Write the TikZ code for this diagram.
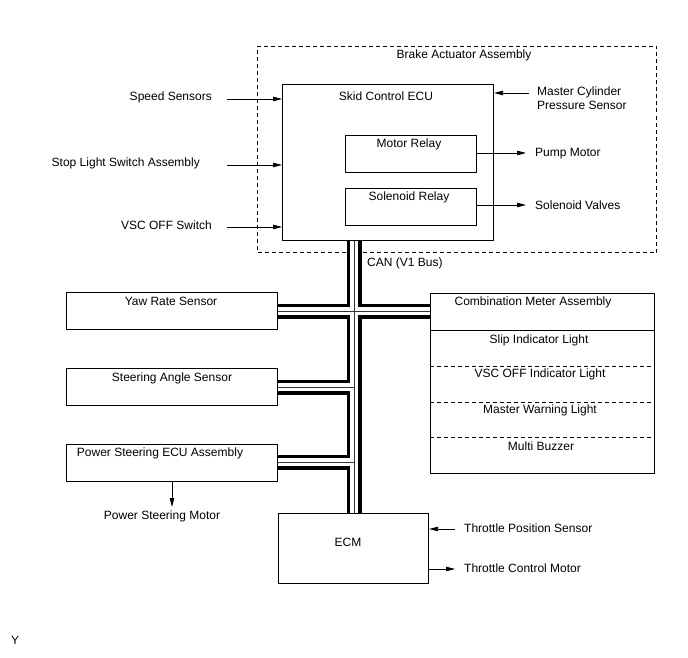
\documentclass[tikz,border=0pt]{standalone}
\usepackage{fontspec}
\setmainfont{Liberation Sans}
\usetikzlibrary{arrows.meta}
\begin{document}
\begin{tikzpicture}[x=1pt,y=-1pt,
  font=\fontsize{12}{14}\selectfont,
  box/.style={draw, line width=1.1pt, inner sep=0pt, anchor=north west},
  dbox/.style={draw, line width=1pt, dash pattern=on 4pt off 3pt, inner sep=0pt, anchor=north west},
  lbl/.style={inner sep=0pt, anchor=base},
  lblw/.style={inner sep=0pt, anchor=base west},
  lble/.style={inner sep=0pt, anchor=base east},
  arr/.style={line width=0.8pt, -{Triangle[length=9pt,width=4.5pt]}},
  busblack/.style={line width=15pt, black},
  buswhite/.style={line width=7.5pt, white},
  busthin/.style={line width=0.9pt, black!80}
]
\useasboundingbox (0,0) rectangle (688,658);

% boxes
\node[dbox, minimum width=399pt, minimum height=206pt] (brake) at (257,46) {};
\node[box, minimum width=211pt, minimum height=156pt] (skid) at (282,84) {};
\node[box, minimum width=131pt, minimum height=37pt] (motor) at (345,135) {};
\node[box, minimum width=131pt, minimum height=37pt] (sol) at (345,188) {};
\node[box, minimum width=211pt, minimum height=37pt] (yaw) at (66,292) {};
\node[box, minimum width=211pt, minimum height=37pt] (steer) at (66,368) {};
\node[box, minimum width=211pt, minimum height=37pt] (psecu) at (66,444) {};
\node[box, minimum width=224pt, minimum height=180pt] (comb) at (430,293) {};
\node[box, minimum width=150pt, minimum height=70pt] (ecm) at (278,513) {};

% combination meter dividers
\draw[line width=1pt] (comb.west |- 0,330) -- (comb.east |- 0,330);
\foreach \yy in {366,402,437}
  \draw[line width=0.8pt, dash pattern=on 4pt off 3pt] (comb.west |- 0,\yy) -- (comb.east |- 0,\yy);

% labels
\node[lbl] (tbrake) at (464,59) {Brake Actuator Assembly};
\node[lbl] (tskid) at (386,101) {Skid Control ECU};
\node[lbl] (tmotor) at (409,147) {Motor Relay};
\node[lbl] (tsol) at (409,200) {Solenoid Relay};
\node[lblw] (tpump) at (535,157) {Pump Motor};
\node[lblw] (tvalves) at (535,209) {Solenoid Valves};
\node[inner sep=0pt, anchor=north west, align=left] (tmaster) at (537,87) {Master Cylinder\\Pressure Sensor};
\node[lble] (tspeed) at (212,101) {Speed Sensors};
\node[lble] (tstop) at (200,166) {Stop Light Switch Assembly};
\node[lble] (tvsc) at (212,229) {VSC OFF Switch};
\node[lblw] (tcan) at (367,266) {CAN (V1 Bus)};
\node[lbl] (tyaw) at (171,305) {Yaw Rate Sensor};
\node[lbl] (tsteer) at (172,381) {Steering Angle Sensor};
\node[lbl] (tps) at (160,456) {Power Steering ECU Assembly};
\node[lbl] (tpsm) at (162,519) {Power Steering Motor};
\node[lbl] (tcomb) at (533,305) {Combination Meter Assembly};
\node[lbl] (tslip) at (539,343) {Slip Indicator Light};
\node[lbl] (tvscl) at (540,377) {VSC OFF Indicator Light};
\node[lbl] (tmw) at (540,413) {Master Warning Light};
\node[lbl] (tbuzz) at (541,450) {Multi Buzzer};
\node[lbl] (tecm) at (348,546) {ECM};
\node[lblw] (ttps) at (464,532) {Throttle Position Sensor};
\node[lblw] (ttcm) at (464,572) {Throttle Control Motor};
\node[lblw] (ty) at (11,644) {Y};

% arrows
\coordinate (cSpeed) at (227,99);
\coordinate (cStop) at (227,165);
\coordinate (cVsc) at (227,227);
\coordinate (cMaster) at (529,93);
\coordinate (cPump) at (526,153);
\coordinate (cSol) at (526,205);
\coordinate (cPsm) at (172,507);
\coordinate (cTps) at (455,529);
\coordinate (cTcm) at (455,569);
\draw[arr] (cSpeed) -- (cSpeed -| skid.west);
\draw[arr] (cStop) -- (cStop -| skid.west);
\draw[arr] (cVsc) -- (cVsc -| skid.west);
\draw[arr] (cMaster) -- (cMaster -| skid.east);
\draw[arr] (cPump -| motor.east) -- (cPump);
\draw[arr] (cSol -| sol.east) -- (cSol);
\draw[arr] (cPsm |- psecu.south) -- (cPsm);
\draw[arr] (cTps) -- (cTps -| ecm.east);
\draw[arr] (cTcm -| ecm.east) -- (cTcm);

% CAN bus
\coordinate (bTop) at (354,240);
\coordinate (bBot) at (354,513);
\coordinate (hY) at (354,311);
\coordinate (s1) at (354,387);
\coordinate (s2) at (354,462);
\foreach \st in {busblack,buswhite,busthin}{
  \draw[\st] (bTop |- skid.south) -- (bBot |- ecm.north);
  \draw[\st] (hY -| yaw.east) -- (hY -| comb.west);
  \draw[\st] (s1 -| steer.east) -- (s1);
  \draw[\st] (s2 -| psecu.east) -- (s2);
}
\end{tikzpicture}
\end{document}
